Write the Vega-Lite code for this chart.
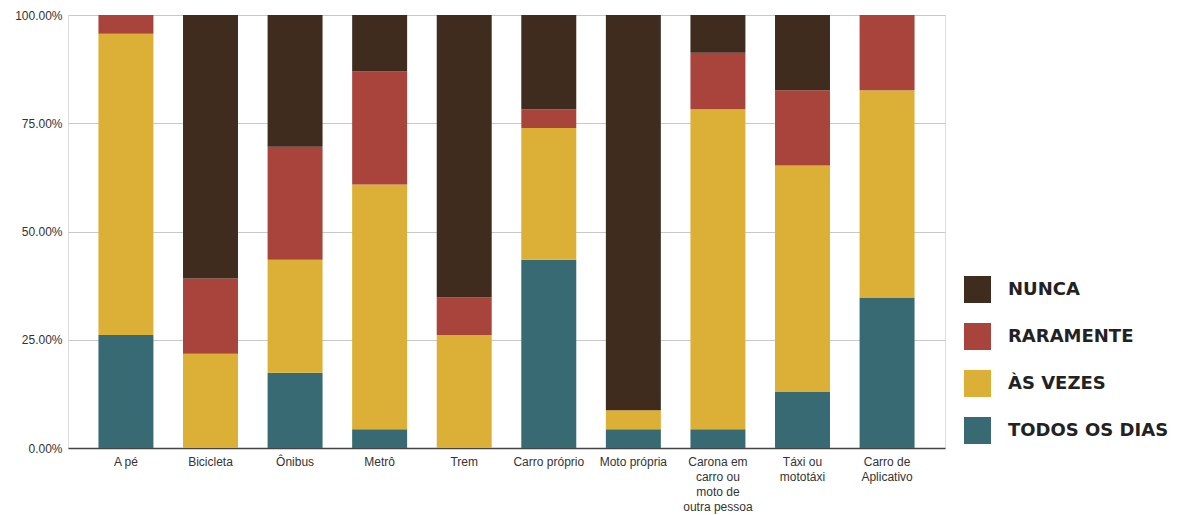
{
  "$schema": "https://vega.github.io/schema/vega-lite/v6.json",
  "autosize": {"type": "none"},
  "padding": {"left": 68, "top": 15, "right": 252, "bottom": 67},
  "width": 877,
  "height": 433,
  "background": "#ffffff",
  "datasets": {
    "frequencias": [
      {"frequencia": "TODOS OS DIAS", "ordem": 1},
      {"frequencia": "ÀS VEZES", "ordem": 2},
      {"frequencia": "RARAMENTE", "ordem": 3},
      {"frequencia": "NUNCA", "ordem": 4}
    ]
  },
  "data": {
    "values": [
      {"meio": "A pé", "frequencia": "TODOS OS DIAS", "n": 6},
      {"meio": "A pé", "frequencia": "ÀS VEZES", "n": 16},
      {"meio": "A pé", "frequencia": "RARAMENTE", "n": 1},
      {"meio": "A pé", "frequencia": "NUNCA", "n": 0},
      {"meio": "Bicicleta", "frequencia": "TODOS OS DIAS", "n": 0},
      {"meio": "Bicicleta", "frequencia": "ÀS VEZES", "n": 5},
      {"meio": "Bicicleta", "frequencia": "RARAMENTE", "n": 4},
      {"meio": "Bicicleta", "frequencia": "NUNCA", "n": 14},
      {"meio": "Ônibus", "frequencia": "TODOS OS DIAS", "n": 4},
      {"meio": "Ônibus", "frequencia": "ÀS VEZES", "n": 6},
      {"meio": "Ônibus", "frequencia": "RARAMENTE", "n": 6},
      {"meio": "Ônibus", "frequencia": "NUNCA", "n": 7},
      {"meio": "Metrô", "frequencia": "TODOS OS DIAS", "n": 1},
      {"meio": "Metrô", "frequencia": "ÀS VEZES", "n": 13},
      {"meio": "Metrô", "frequencia": "RARAMENTE", "n": 6},
      {"meio": "Metrô", "frequencia": "NUNCA", "n": 3},
      {"meio": "Trem", "frequencia": "TODOS OS DIAS", "n": 0},
      {"meio": "Trem", "frequencia": "ÀS VEZES", "n": 6},
      {"meio": "Trem", "frequencia": "RARAMENTE", "n": 2},
      {"meio": "Trem", "frequencia": "NUNCA", "n": 15},
      {"meio": "Carro próprio", "frequencia": "TODOS OS DIAS", "n": 10},
      {"meio": "Carro próprio", "frequencia": "ÀS VEZES", "n": 7},
      {"meio": "Carro próprio", "frequencia": "RARAMENTE", "n": 1},
      {"meio": "Carro próprio", "frequencia": "NUNCA", "n": 5},
      {"meio": "Moto própria", "frequencia": "TODOS OS DIAS", "n": 1},
      {"meio": "Moto própria", "frequencia": "ÀS VEZES", "n": 1},
      {"meio": "Moto própria", "frequencia": "RARAMENTE", "n": 0},
      {"meio": "Moto própria", "frequencia": "NUNCA", "n": 21},
      {"meio": "Carona em carro ou moto de outra pessoa", "frequencia": "TODOS OS DIAS", "n": 1},
      {"meio": "Carona em carro ou moto de outra pessoa", "frequencia": "ÀS VEZES", "n": 17},
      {"meio": "Carona em carro ou moto de outra pessoa", "frequencia": "RARAMENTE", "n": 3},
      {"meio": "Carona em carro ou moto de outra pessoa", "frequencia": "NUNCA", "n": 2},
      {"meio": "Táxi ou mototáxi", "frequencia": "TODOS OS DIAS", "n": 3},
      {"meio": "Táxi ou mototáxi", "frequencia": "ÀS VEZES", "n": 12},
      {"meio": "Táxi ou mototáxi", "frequencia": "RARAMENTE", "n": 4},
      {"meio": "Táxi ou mototáxi", "frequencia": "NUNCA", "n": 4},
      {"meio": "Carro de Aplicativo", "frequencia": "TODOS OS DIAS", "n": 8},
      {"meio": "Carro de Aplicativo", "frequencia": "ÀS VEZES", "n": 11},
      {"meio": "Carro de Aplicativo", "frequencia": "RARAMENTE", "n": 4},
      {"meio": "Carro de Aplicativo", "frequencia": "NUNCA", "n": 0}
    ]
  },
  "transform": [
    {
      "lookup": "frequencia",
      "from": {"data": {"name": "frequencias"}, "key": "frequencia", "fields": ["ordem"]}
    }
  ],
  "mark": {"type": "bar"},
  "encoding": {
    "x": {
      "field": "meio",
      "type": "nominal",
      "sort": null,
      "scale": {"paddingInner": 0.35, "paddingOuter": 0.36},
      "axis": {
        "title": null,
        "labelAngle": 0,
        "labelFont": "Liberation Sans",
        "labelFontSize": 12,
        "labelColor": "#333333",
        "labelPadding": 8,
        "labelLineHeight": 15,
        "ticks": false,
        "domainColor": "#444444",
        "domainWidth": 1.5,
        "labelExpr": "datum.value == 'Carona em carro ou moto de outra pessoa' ? ['Carona em', 'carro ou', 'moto de', 'outra pessoa'] : datum.value == 'Táxi ou mototáxi' ? ['Táxi ou', 'mototáxi'] : datum.value == 'Carro de Aplicativo' ? ['Carro de', 'Aplicativo'] : datum.value"
      }
    },
    "y": {
      "field": "n",
      "type": "quantitative",
      "stack": "normalize",
      "scale": {"domain": [0, 1], "nice": false},
      "axis": {
        "title": null,
        "values": [0, 0.25, 0.5, 0.75, 1],
        "labelExpr": "format(datum.value, '.2%')",
        "labelFont": "Liberation Sans",
        "labelFontSize": 12,
        "labelColor": "#333333",
        "labelPadding": 6,
        "ticks": false,
        "domain": false,
        "gridColor": "#c8c8c8",
        "gridWidth": 1
      }
    },
    "color": {
      "field": "frequencia",
      "type": "nominal",
      "scale": {
        "domain": ["NUNCA", "RARAMENTE", "ÀS VEZES", "TODOS OS DIAS"],
        "range": ["#402c1e", "#a8443c", "#dcaf36", "#376a73"]
      },
      "legend": {
        "title": null,
        "orient": "none",
        "legendX": 896,
        "legendY": 261,
        "symbolType": "square",
        "symbolSize": 729,
        "symbolStrokeWidth": 0,
        "symbolOpacity": 1,
        "labelFont": "DejaVu Sans",
        "labelFontWeight": "bold",
        "labelFontSize": 18,
        "labelColor": "#222222",
        "labelOffset": 17,
        "rowPadding": 20,
        "labelLimit": 300
      }
    },
    "order": {"field": "ordem", "type": "quantitative", "sort": "ascending"}
  }
}
